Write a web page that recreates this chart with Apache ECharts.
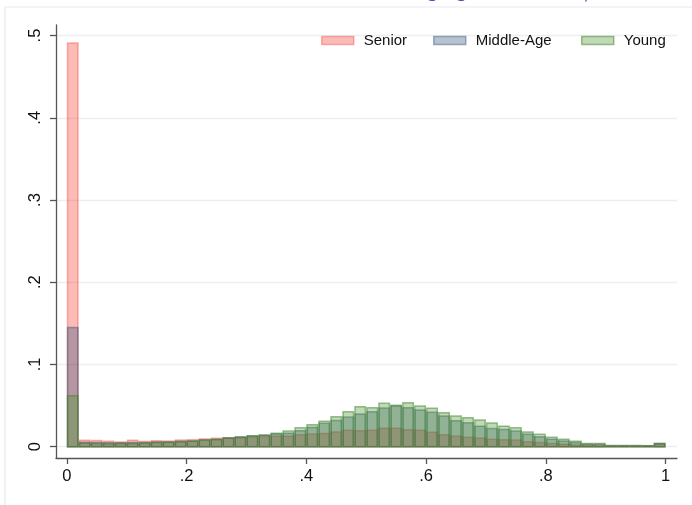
<!DOCTYPE html>
<html>
<head>
<meta charset="utf-8">
<script src="https://cdn.jsdelivr.net/npm/echarts@6/dist/echarts.min.js"></script>
<style>
html,body{margin:0;padding:0;background:#fff;}
#chart{width:692px;height:505px;}
</style>
</head>
<body>
<div id="chart"></div>
<script>
// Histogram bins (width 0.02, from 0 to 1)
const binWidth = 0.02;
const seriesNames = ['Senior', 'Middle-Age', 'Young'];
const senior = [0.491, 0.0078, 0.0075, 0.0066, 0.0058, 0.0078, 0.0062, 0.0072, 0.0068, 0.008,
  0.0085, 0.0095, 0.0102, 0.0108, 0.0112, 0.0118, 0.0125, 0.0128, 0.013, 0.0146,
  0.0154, 0.0162, 0.018, 0.020, 0.0195, 0.020, 0.0224, 0.0224, 0.0207, 0.020,
  0.0175, 0.0146, 0.013, 0.0114, 0.0106, 0.009, 0.0085, 0.008, 0.006, 0.005,
  0.004, 0.003, 0.002, 0.0015, 0.0012, 0.0008, 0.0008, 0.0008, 0.0008, 0.003];
const middleAge = [0.145, 0.0053, 0.005, 0.0048, 0.0048, 0.005, 0.005, 0.0058, 0.0058, 0.0066,
  0.007, 0.008, 0.0089, 0.0105, 0.012, 0.0134, 0.0142, 0.0155, 0.0165, 0.0195,
  0.0235, 0.0284, 0.032, 0.036, 0.0398, 0.0426, 0.047, 0.0495, 0.0474, 0.0446,
  0.0418, 0.0373, 0.0316, 0.029, 0.025, 0.022, 0.021, 0.019, 0.015, 0.012,
  0.009, 0.007, 0.005, 0.003, 0.003, 0.001, 0.001, 0.001, 0.001, 0.004];
const young = [0.062, 0.0041, 0.0038, 0.0036, 0.0036, 0.0038, 0.0041, 0.005, 0.0053, 0.0058,
  0.0066, 0.008, 0.0089, 0.0105, 0.0113, 0.0129, 0.0138, 0.0165, 0.019, 0.023,
  0.0268, 0.0308, 0.0365, 0.0426, 0.0487, 0.0474, 0.0527, 0.0503, 0.0535, 0.0495,
  0.0467, 0.0414, 0.0373, 0.0353, 0.0325, 0.0288, 0.025, 0.023, 0.018, 0.015,
  0.0114, 0.009, 0.0065, 0.004, 0.0038, 0.0015, 0.0015, 0.0015, 0.0012, 0.004];
const xTicks = [0, 0.2, 0.4, 0.6, 0.8, 1];
const yTicks = [0, 0.1, 0.2, 0.3, 0.4, 0.5];

const fills = ['rgba(244,64,52,0.35)', 'rgba(52,81,121,0.35)', 'rgba(72,149,41,0.35)'];
const strokes = ['rgba(244,64,52,0.4)', 'rgba(52,81,121,0.45)', 'rgba(60,130,35,0.5)'];

function fmt(v){
  if (v === 0) return '0';
  if (v === 1) return '1';
  return String(v).replace(/^0/, '');
}

function makeSeries(name, values, idx){
  const data = values.map((v, i) => [i * binWidth, (i + 1) * binWidth, v]);
  return {
    name: name,
    type: 'custom',
    data: data,
    z: 2 + idx,
    itemStyle: {color: fills[idx], borderColor: strokes[idx]},
    renderItem: function(params, api){
      const p0 = api.coord([api.value(0), api.value(2)]);
      const p1 = api.coord([api.value(1), 0]);
      return {
        type: 'rect',
        shape: {x: p0[0] + 0.75, y: p0[1], width: p1[0] - p0[0] - 1.5, height: p1[1] - p0[1]},
        style: {fill: fills[idx], stroke: strokes[idx], lineWidth: 1.5}
      };
    }
  };
}

const chart = echarts.init(document.getElementById('chart'), null, {renderer: 'canvas'});
const axisColor = '#555';
const fontFamily = '"Liberation Sans", Arial, Helvetica, sans-serif';

function legendFor(i, left){
  return {
    left: left, top: 28,
    itemWidth: 32, itemHeight: 8,
    icon: 'rect',
    selectedMode: false,
    data: [{name: seriesNames[i], itemStyle: {color: fills[i], borderColor: strokes[i], borderWidth: 1.5}}],
    textStyle: {fontSize: 15, color: '#111', fontFamily: fontFamily, padding: [0, 0, 0, 5]}
  };
}

chart.setOption({
  animation: false,
  backgroundColor: '#fff',
  textStyle: {fontFamily: fontFamily},
  grid: {left: 56, top: 25, right: 15, bottom: 47, containLabel: false},
  legend: [legendFor(0, 316), legendFor(1, 428), legendFor(2, 576)],
  xAxis: {
    type: 'value', min: -0.018, max: 1.019,
    axisLine: {show: true, onZero: false, lineStyle: {color: axisColor, width: 1.3}},
    axisTick: {show: true, length: 6, customValues: xTicks, lineStyle: {color: axisColor, width: 1.3}},
    axisLabel: {customValues: xTicks, formatter: fmt, fontSize: 16.5, color: '#111', margin: 10, fontFamily: fontFamily},
    splitLine: {show: false}
  },
  yAxis: {
    type: 'value', min: -0.01374, max: 0.5128,
    axisLine: {show: true, onZero: false, lineStyle: {color: axisColor, width: 1.3}},
    axisTick: {show: true, length: 6, customValues: yTicks, lineStyle: {color: axisColor, width: 1.3}},
    axisLabel: {customValues: yTicks, formatter: fmt, fontSize: 16.5, color: '#111', margin: 12, rotate: 90, fontFamily: fontFamily},
    splitLine: {show: true, lineStyle: {color: '#e9eff2', width: 1.3}}
  },
  graphic: [
    {type: 'rect', shape: {x: 5, y: 7, width: 720, height: 520}, style: {fill: 'none', stroke: '#e6ebeb', lineWidth: 1.2}, z: -1, silent: true},
    {type: 'text', x: 426, y: -19, style: {text: 'g', fill: '#3f3fbf', fontSize: 21, fontWeight: 'bold', fontFamily: fontFamily}, silent: true},
    {type: 'text', x: 455, y: -19, style: {text: 'g', fill: '#3f3fbf', fontSize: 21, fontWeight: 'bold', fontFamily: fontFamily}, silent: true},
    {type: 'text', x: 583, y: -17, style: {text: ',', fill: '#3f3fbf', fontSize: 21, fontFamily: fontFamily}, silent: true}
  ],
  series: [makeSeries('Senior', senior, 0), makeSeries('Middle-Age', middleAge, 1), makeSeries('Young', young, 2)]
});
</script>
</body>
</html>
